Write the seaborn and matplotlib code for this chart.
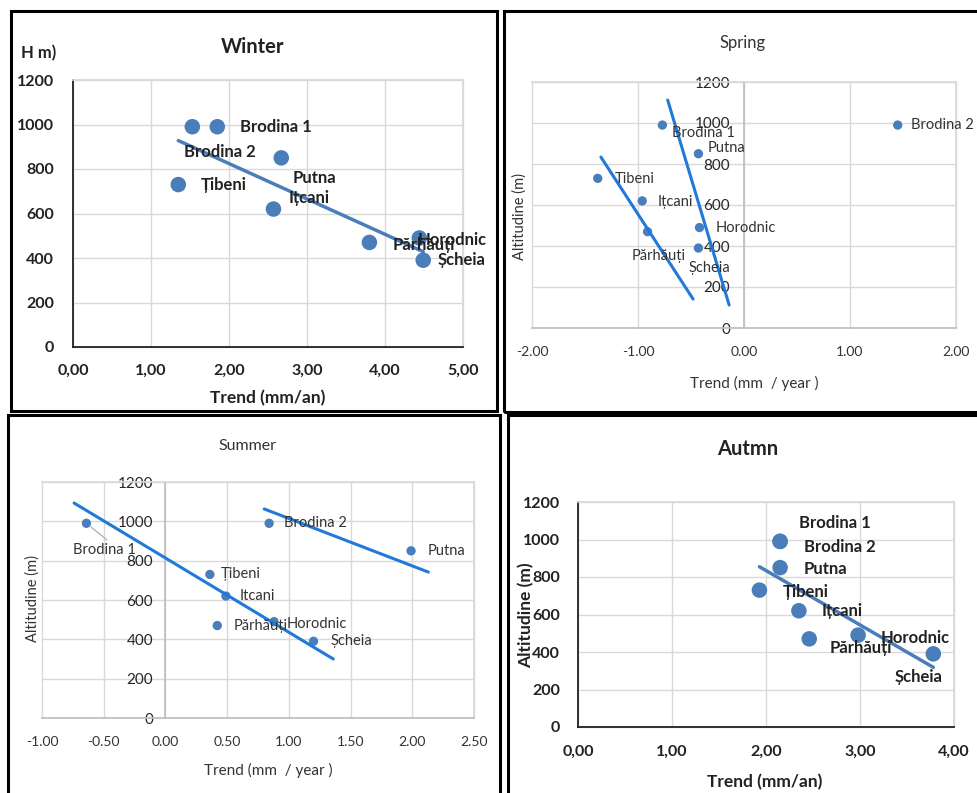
import matplotlib
matplotlib.use("Agg")
import matplotlib.pyplot as plt
from matplotlib.patches import Rectangle
import seaborn as sns

W, H = 977, 793

# stations, same order in every season
stations = ["Brodina 1", "Brodina 2", "Putna", "Țibeni", "Ițcani", "Părhăuți", "Horodnic", "Șcheia"]
altitude = [990, 990, 850, 730, 620, 470, 490, 390]

# trend (mm/year)
trend_winter = [1.85, 1.53, 2.67, 1.35, 2.57, 3.80, 4.44, 4.49]
trend_spring = [-0.77, 1.45, -0.43, -1.38, -0.96, -0.91, -0.42, -0.43]
trend_summer = [-0.64, 0.84, 1.99, 0.36, 0.49, 0.42, 0.88, 1.20]
trend_autumn = [2.15, 2.15, 2.15, 1.93, 2.35, 2.46, 2.98, 3.78]

# hand drawn trend lines of spring and summer (end points)
spring_line1_x = [-1.35, -0.48]
spring_line1_y = [834, 141]
spring_line2_x = [-0.72, -0.14]
spring_line2_y = [1112, 112]
summer_line1_x = [-0.74, 1.36]
summer_line1_y = [1093, 300]
summer_line2_x = [0.80, 2.13]
summer_line2_y = [1063, 742]

# labels as written in each panel
names_spring = ["Brodina 1", "Brodina 2", "Putna", "Tibeni", "Ițcani", "Părhăuți", "Horodnic", "Șcheia"]
names_summer = ["Brodina 1", "Brodina 2", "Putna", "Țibeni", "Itcani", "Părhăuți", "Horodnic", "Șcheia"]

altitude_ticks = [0, 200, 400, 600, 800, 1000, 1200]
winter_xticks = [0, 1, 2, 3, 4, 5]
spring_xticks = [-2, -1, 0, 1, 2]
summer_xticks = [-1, -0.5, 0, 0.5, 1, 1.5, 2, 2.5]
autumn_xticks = [0, 1, 2, 3, 4]

sns.set_theme(style="white")
plt.rcParams["font.family"] = ["Lato", "DejaVu Sans"]

BLUE = "#4a7ebb"
LINE_BRIGHT = "#2179d9"
DARK = "#222222"
GREY_TXT = "#333333"
GRID = "#d9d9d9"

fig = plt.figure(figsize=(W / 100, H / 100), dpi=100)


def add_ax(l, t, r, b):
    return fig.add_axes([l / W, 1 - b / H, (r - l) / W, (b - t) / H])


def ftext(x, y, s, **kw):
    fig.text(x / W, 1 - y / H, s, ha=kw.pop("ha", "center"), va=kw.pop("va", "center"), **kw)


def frame(l, t, r, b):
    fig.add_artist(Rectangle((l / W, 1 - b / H), (r - l) / W, (b - t) / H,
                             transform=fig.transFigure, fill=False, lw=2.2, ec="black"))


def base_axes(ax, xticks, xfmt, bold, size, xpad, ypad, color):
    ax.set_xlim(xticks[0], xticks[-1])
    ax.set_ylim(0, 1200)
    w = "bold" if bold else "normal"
    ax.set_xticks(xticks, labels=[xfmt(v) for v in xticks], fontweight=w, fontsize=size, color=color)
    ax.set_yticks(altitude_ticks, labels=[str(v) for v in altitude_ticks], fontweight=w, fontsize=size, color=color)
    ax.tick_params(axis="x", length=0, pad=xpad)
    ax.tick_params(axis="y", length=0, pad=ypad)
    ax.grid(True, color=GRID, lw=1)
    ax.set_axisbelow(True)
    for line in ax.get_xgridlines() + ax.get_ygridlines():
        line.set_clip_on(False)
    ax.set_facecolor("none")


def label_points(ax, xs, ys, names, offsets, **kw):
    for x, y, name, (dx, dy) in zip(xs, ys, names, offsets):
        ax.annotate(name, (x, y), xytext=(dx, dy), textcoords="offset pixels",
                    ha="left", va="center", zorder=5, **kw)


comma = lambda v: f"{v:.2f}".replace(".", ",")
dot = lambda v: f"{v:.2f}"

# ---------------- Winter ----------------
frame(11, 11, 497, 411)
ax = add_ax(73, 80, 463, 347)
sns.scatterplot(x=trend_winter, y=altitude, ax=ax, s=125, color=BLUE, edgecolor="none", zorder=3)
sns.regplot(x=trend_winter, y=altitude, ax=ax, scatter=False, ci=None, color=BLUE,
            line_kws=dict(lw=2.5, zorder=2))
base_axes(ax, winter_xticks, comma, True, 11.5, 12, 13.5, DARK)
for s in ["left", "bottom"]:
    ax.spines[s].set_color(DARK)
    ax.spines[s].set_linewidth(1.3)
for s in ["top", "right"]:
    ax.spines[s].set_color(GRID)
label_points(ax, trend_winter, altitude, stations,
             [(23, 0), (-8, -25), (11, -20), (22, 0), (15, 11), (23, -3), (-2, -2), (14, 0)],
             fontsize=12, fontweight="bold", color=DARK)
ftext(253, 47, "Winter", fontsize=14.5, fontweight="bold", color=DARK)
ftext(21, 53, "H m)", ha="left", fontsize=12, fontweight="bold", color=DARK)
ftext(268, 398, "Trend (mm/an)", fontsize=12.5, fontweight="bold", color=DARK)

# ---------------- Spring ----------------
frame(504, 11, 990, 412)
ax = add_ax(532, 82, 956, 328)
sns.scatterplot(x=trend_spring, y=altitude, ax=ax, s=45, color=BLUE, edgecolor="none", zorder=3)
sns.lineplot(x=spring_line1_x, y=spring_line1_y, ax=ax, color=LINE_BRIGHT, lw=2.2, sort=False, zorder=4)
sns.lineplot(x=spring_line2_x, y=spring_line2_y, ax=ax, color=LINE_BRIGHT, lw=2.2, sort=False, zorder=4)
base_axes(ax, spring_xticks, dot, False, 10, 13, 10, GREY_TXT)
for s in ax.spines.values():
    s.set_color(GRID)
ax.spines["left"].set_position(("data", 0))
ax.spines["left"].set_color("#bfbfbf")
ax.spines["bottom"].set_color("#bfbfbf")
label_points(ax, trend_spring, altitude, names_spring,
             [(10, -8), (13, 0), (9, 6), (17, -1), (15, -1), (-16, -24), (16, 0), (-10, -20)],
             fontsize=10.5, color=GREY_TXT)
ftext(743, 43, "Spring", fontsize=12, color=GREY_TXT)
ftext(754, 383, "Trend (mm  / year )", fontsize=11, color=GREY_TXT)
ftext(520, 217, "Altitudine (m)", rotation=90, fontsize=10.5, color=GREY_TXT)

# ---------------- Summer ----------------
frame(8, 415, 500, 800)
ax = add_ax(42, 482, 474, 718)
sns.scatterplot(x=trend_summer, y=altitude, ax=ax, s=45, color=BLUE, edgecolor="none", zorder=3)
sns.lineplot(x=summer_line1_x, y=summer_line1_y, ax=ax, color=LINE_BRIGHT, lw=2.2, sort=False, zorder=4)
sns.lineplot(x=summer_line2_x, y=summer_line2_y, ax=ax, color=LINE_BRIGHT, lw=2.2, sort=False, zorder=4)
base_axes(ax, summer_xticks, dot, False, 10, 13, 9, GREY_TXT)
for s in ax.spines.values():
    s.set_color(GRID)
ax.spines["left"].set_position(("data", 0))
ax.spines["left"].set_color("#bfbfbf")
ax.spines["bottom"].set_color("#bfbfbf")
summer_offsets = [(-13, -27), (15, 0), (17, 0), (11, 0), (14, 0), (16, 0), (13, -2), (17, 0)]
label_points(ax, trend_summer[1:], altitude[1:], names_summer[1:], summer_offsets[1:],
             fontsize=10.5, color=GREY_TXT)
ax.annotate(names_summer[0], (trend_summer[0], altitude[0]), xytext=summer_offsets[0],
            textcoords="offset pixels", ha="left", va="center", fontsize=10.5, color=GREY_TXT,
            zorder=5, arrowprops=dict(arrowstyle="-", color="#a6a6a6", lw=0.8,
                                      shrinkA=0, shrinkB=4, relpos=(0.6, 1.0)))
ftext(247, 446, "Summer", fontsize=11.5, color=GREY_TXT)
ftext(268, 770, "Trend (mm  / year )", fontsize=11, color=GREY_TXT)
ftext(33, 599, "Altitudine (m)", rotation=90, fontsize=10.5, color=GREY_TXT)

# ---------------- Autumn ----------------
frame(508, 415, 990, 800)
ax = add_ax(578, 502, 954, 727)
sns.scatterplot(x=trend_autumn, y=altitude, ax=ax, s=125, color=BLUE, edgecolor="none", zorder=3)
sns.regplot(x=trend_autumn, y=altitude, ax=ax, scatter=False, ci=None, color=BLUE,
            line_kws=dict(lw=2.5, zorder=2))
base_axes(ax, autumn_xticks, comma, True, 11.5, 12.5, 13, DARK)
for s in ["left", "bottom"]:
    ax.spines[s].set_color(DARK)
    ax.spines[s].set_linewidth(1.3)
for s in ["top", "right"]:
    ax.spines[s].set_color(GRID)
label_points(ax, trend_autumn, altitude, stations,
             [(19, 18), (24, -6), (24, -1), (23, -2), (23, 0), (20, -9), (23, -3), (-39, -23)],
             fontsize=12, fontweight="bold", color=DARK)
ftext(748, 449, "Autmn", fontsize=14.5, fontweight="bold", color=DARK)
ftext(765, 782, "Trend (mm/an)", fontsize=12.5, fontweight="bold", color=DARK)
ftext(526, 615, "Altitudine (m)", rotation=90, fontsize=12.5, fontweight="bold", color=DARK)

fig.savefig("out.png", dpi=100, facecolor="white")
